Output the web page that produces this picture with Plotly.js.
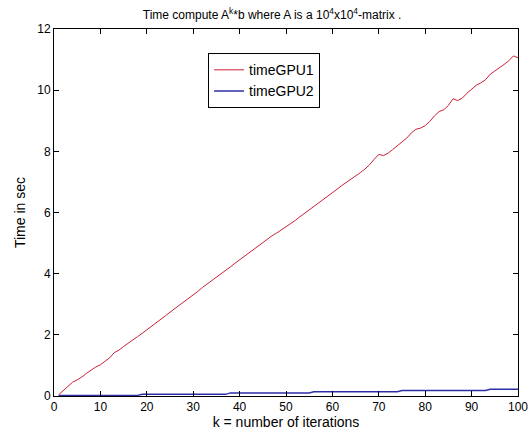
<!DOCTYPE html>
<html>
<head>
<meta charset="utf-8">
<script src="https://cdn.plot.ly/plotly-3.0.1.min.js"></script>
<style>html,body{margin:0;padding:0;background:#fff;}#chart{width:529px;height:435px;}</style>
</head>
<body>
<div id="chart"></div>
<script>
var k = [];
for (var i = 1; i <= 100; i++) k.push(i);

var timeGPU1 = [0.04,0.18,0.32,0.45,0.53,0.62,0.74,0.84,0.95,1.02,
1.14,1.25,1.42,1.50,1.62,1.72,1.84,1.94,2.05,2.16,
2.27,2.38,2.50,2.62,2.74,2.85,2.96,3.08,3.19,3.30,
3.42,3.55,3.66,3.76,3.88,3.99,4.10,4.22,4.34,4.45,
4.58,4.70,4.79,4.90,5.02,5.14,5.24,5.33,5.43,5.52,
5.63,5.74,5.86,5.97,6.08,6.20,6.30,6.42,6.53,6.64,
6.76,6.88,6.98,7.08,7.20,7.30,7.42,7.56,7.74,7.90,
7.86,7.94,8.06,8.18,8.30,8.43,8.60,8.72,8.76,8.84,
8.98,9.16,9.30,9.36,9.50,9.72,9.66,9.74,9.90,10.02,
10.16,10.24,10.34,10.52,10.62,10.72,10.84,10.96,11.12,11.06];

var timeGPU2 = [0.02,0.02,0.02,0.02,0.02,0.02,0.02,0.02,0.02,0.02,
0.02,0.02,0.02,0.02,0.02,0.02,0.02,0.02,0.055,0.055,
0.055,0.055,0.055,0.055,0.055,0.055,0.055,0.055,0.055,0.055,
0.055,0.055,0.055,0.055,0.055,0.055,0.055,0.10,0.10,0.10,
0.10,0.10,0.10,0.10,0.10,0.10,0.10,0.10,0.10,0.10,
0.10,0.10,0.10,0.10,0.10,0.14,0.14,0.14,0.14,0.14,
0.14,0.14,0.14,0.14,0.14,0.14,0.14,0.14,0.14,0.14,
0.14,0.14,0.14,0.14,0.18,0.18,0.18,0.18,0.18,0.18,
0.18,0.18,0.18,0.18,0.18,0.18,0.18,0.18,0.18,0.18,
0.18,0.18,0.18,0.22,0.22,0.22,0.22,0.22,0.22,0.22];

var xTicks = [0,10,20,30,40,50,60,70,80,90,100];
var yTicks = [0,2,4,6,8,10,12];

var fam = 'Liberation Sans, Arial, sans-serif';
var font = {family: fam, size: 12, color: '#000'};
var bigFont = {family: fam, size: 14, color: '#000'};

var traces = [
  {x: k, y: timeGPU1, type: 'scatter', mode: 'lines', name: 'timeGPU1',
   line: {color: '#cc1f3a', width: 1}},
  {x: k, y: timeGPU2, type: 'scatter', mode: 'lines', name: 'timeGPU2',
   line: {color: '#2e2ea6', width: 1.4}}
];

var layout = {
  width: 529, height: 435,
  margin: {l: 53.5, r: 10.5, t: 29.3, b: 39, pad: 0},
  paper_bgcolor: '#fff', plot_bgcolor: '#fff',
  font: font,
  title: {text: 'Time compute A<sup>k</sup>*b where A is a 10<sup>4</sup>x10<sup>4</sup>-matrix .',
          font: {family: fam, size: 12, color: '#000'},
          xref: 'paper', x: 0.47, xanchor: 'center',
          yref: 'container', y: 0.975, yanchor: 'top'},
  xaxis: {range: [0, 100], tickvals: xTicks, ticktext: xTicks.map(String),
          ticks: 'inside', ticklen: 5, tickcolor: '#000', showline: true, linecolor: '#000',
          linewidth: 1, mirror: 'ticks', showgrid: false, zeroline: false,
          tickfont: font,
          title: {text: 'k = number of iterations', font: bigFont, standoff: 3}},
  yaxis: {range: [0, 12], tickvals: yTicks, ticktext: yTicks.map(String),
          ticks: 'inside', ticklen: 5, tickcolor: '#000', showline: true, linecolor: '#000',
          linewidth: 1, mirror: 'ticks', showgrid: false, zeroline: false,
          tickfont: font,
          title: {text: 'Time in sec', font: bigFont, standoff: 8}},
  showlegend: true,
  legend: {x: 0.332, y: 0.934, xanchor: 'left', yanchor: 'top',
           bgcolor: '#fff', bordercolor: '#000', borderwidth: 1,
           font: bigFont, tracegroupgap: 0}
};

Plotly.newPlot('chart', traces, layout, {displayModeBar: false, staticPlot: true});
</script>
</body>
</html>
